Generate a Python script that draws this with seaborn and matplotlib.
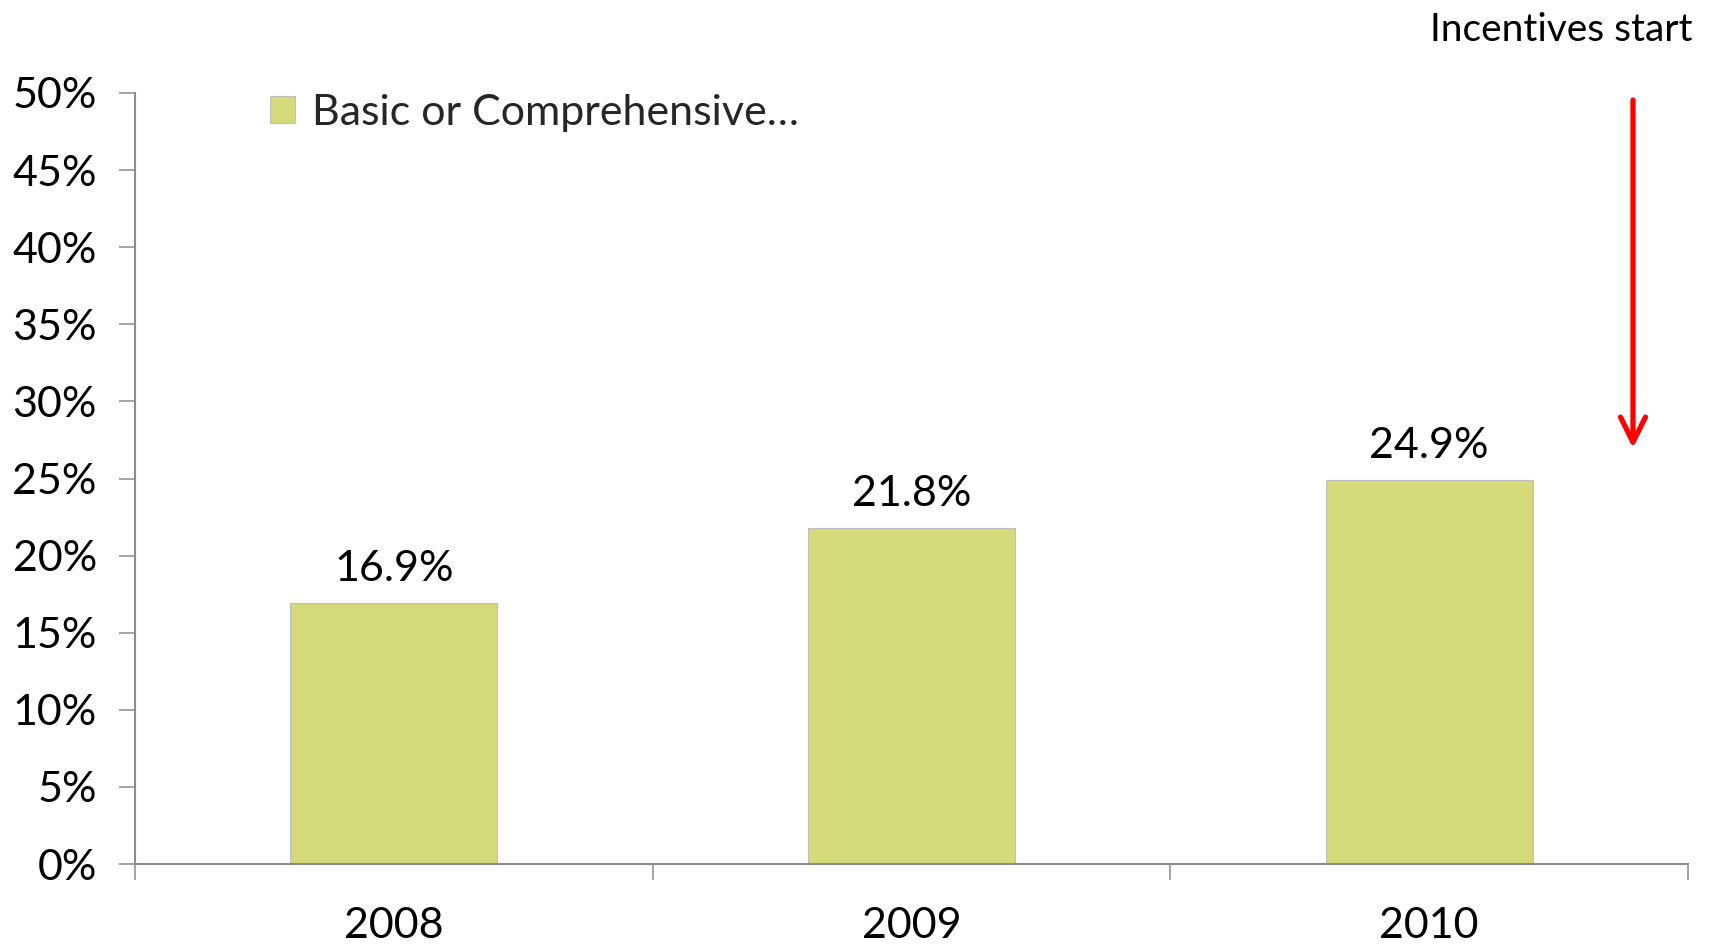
import matplotlib
matplotlib.use("Agg")
import matplotlib.pyplot as plt
import seaborn as sns
import pandas as pd
from matplotlib.ticker import FixedLocator, FuncFormatter

years = ["2008", "2009", "2010"]
values = [16.9, 21.8, 24.9]
series_label = "Basic or Comprehensive\u2026"
yticks = [0, 5, 10, 15, 20, 25, 30, 35, 40, 45, 50]
annotation_text = "Incentives start"

sns.set_theme(style="white")
plt.rcParams["font.family"] = ["Lato", "DejaVu Sans"]

BAR = "#D4D97A"
AXC = "#8C8C8C"

fig = plt.figure(figsize=(17.15, 9.44), dpi=100)
ax = fig.add_axes([135/1715, 1-864/944, (1688-135)/1715, (864-93)/944])

df = pd.DataFrame({"year": years, "value": values})
sns.barplot(data=df, x="year", y="value", color=BAR, width=0.40,
            edgecolor="#BFBFBF", linewidth=0.8, saturation=1,
            label=series_label, ax=ax)

ax.set_xlim(-0.5, 2.5)
ax.set_ylim(0, 50)
ax.set_yticks(yticks)
ax.yaxis.set_major_formatter(FuncFormatter(lambda v, p: f"{int(v)}%"))
ax.set_xlabel("")
ax.set_ylabel("")

for s in ["top", "right"]:
    ax.spines[s].set_visible(False)
for s in ["left", "bottom"]:
    ax.spines[s].set_color(AXC)
    ax.spines[s].set_linewidth(1.5)

ax.tick_params(axis="y", which="major", direction="out", length=11.5, width=1.1,
               color=AXC, labelsize=31, pad=16, left=True)
ax.tick_params(axis="x", which="major", length=0, labelsize=31, pad=31, bottom=True)
ax.xaxis.set_minor_locator(FixedLocator([-0.5, 0.5, 1.5, 2.5]))
ax.tick_params(axis="x", which="minor", direction="out", length=11.5, width=1.1,
               color=AXC, bottom=True)
for lab in ax.get_yticklabels() + ax.get_xticklabels():
    lab.set_color("black")

for i, v in enumerate(values):
    ax.annotate(f"{v}%", xy=(i, v), xytext=(0, 11), textcoords="offset points",
                ha="center", va="bottom", fontsize=31, color="black")

leg = ax.legend(loc="center left", bbox_to_anchor=(270/1715, 1-113/944),
                bbox_transform=fig.transFigure, frameon=False, fontsize=31,
                handlelength=0.58, handleheight=0.58, handletextpad=0.4,
                borderpad=0, borderaxespad=0)

fig.text(1693/1715, 1-41/944, annotation_text, ha="right", va="baseline",
         fontsize=28, color="black")

ax.annotate("", xy=(1633/1715, 1-448/944), xytext=(1633/1715, 1-100/944),
            xycoords="figure fraction", textcoords="figure fraction",
            arrowprops=dict(arrowstyle="->,head_length=1.5,head_width=0.75",
                            color="#FF0000", lw=3.8, shrinkA=0, shrinkB=0))

fig.savefig("out.png", dpi=100, facecolor="white")
